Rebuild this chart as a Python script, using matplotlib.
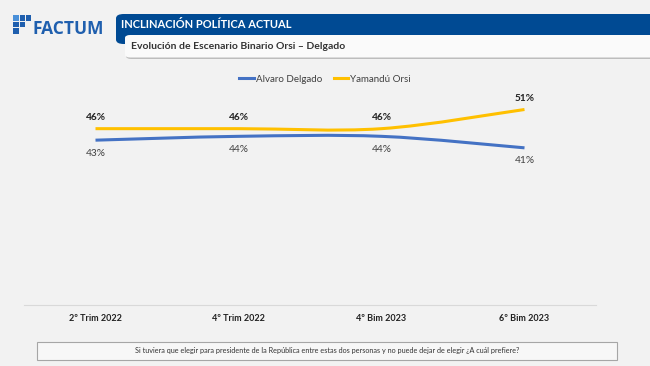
import matplotlib
matplotlib.use("Agg")
import matplotlib.pyplot as plt
from matplotlib.path import Path
from matplotlib.patches import PathPatch, FancyBboxPatch, Rectangle
from matplotlib.lines import Line2D

categories = ["2º Trim 2022", "4º Trim 2022", "4º Bim 2023", "6º Bim 2023"]
delgado = [43, 44, 44, 41]
orsi = [46, 46, 46, 51]
delgado_labels = ["43%", "44%", "44%", "41%"]
orsi_labels = ["46%", "46%", "46%", "51%"]
series_names = ["Alvaro Delgado", "Yamandú Orsi"]
title = "INCLINACIÓN POLÍTICA ACTUAL"
subtitle = "Evolución de Escenario Binario Orsi – Delgado"
question = ("Si tuviera que elegir para presidente de la República entre estas dos personas "
            "y no puede dejar de elegir ¿A cuál prefiere?")

plt.rcParams['font.family'] = ['Lato', 'DejaVu Sans']
BG = "#f2f2f2"
BLUE = "#4472C4"
GOLD = "#FFC000"
NAVY = "#004A93"

W, H = 650, 366
fig = plt.figure(figsize=(6.5, 3.66), dpi=100, facecolor=BG)


def fx(px):
    return px / W


def fy(py):
    return 1 - py / H


# Logo
logo_sq = [(13, 15, "#4a90d9"), (19.5, 15, "#1f5fae"), (26, 15, "#1f5fae"),
           (13, 21.5, "#1f5fae"), (19.5, 21.5, "#1f5fae"), (13, 28, "#1f5fae")]
for x, y, c in logo_sq:
    fig.patches.append(Rectangle((fx(x), fy(y + 5.5)), 5.5 / W, 5.5 / H, transform=fig.transFigure,
                                 facecolor=c, edgecolor="none"))
fig.text(fx(33), fy(29), "FACTUM", fontsize=12.5, color="#1f5fae", ha="left", va="center",
         fontweight="bold", family=["Open Sans", "DejaVu Sans"])

# Header bar
fig.patches.append(FancyBboxPatch((fx(116), fy(44)), fx(560), (44 - 14) / H,
                                  boxstyle="round,pad=0,rounding_size=0.012",
                                  transform=fig.transFigure, facecolor=NAVY, edgecolor="none"))
fig.text(fx(121), fy(25), title, fontsize=8, color="white", fontweight="bold",
         ha="left", va="center")
# shadow + white subtitle box
fig.patches.append(FancyBboxPatch((fx(126), fy(59)), fx(540), (59 - 36) / H,
                                  boxstyle="round,pad=0,rounding_size=0.008",
                                  transform=fig.transFigure, facecolor="#bdbdbd", edgecolor="none"))
fig.patches.append(FancyBboxPatch((fx(125), fy(57.5)), fx(540), (57.5 - 35) / H,
                                  boxstyle="round,pad=0,rounding_size=0.008",
                                  transform=fig.transFigure, facecolor="#fafafa", edgecolor="none"))
fig.text(fx(131), fy(46.5), subtitle, fontsize=7.5, color="#333333", fontweight="bold",
         ha="left", va="center")

# Axes
ax = fig.add_axes([fx(24), fy(305), fx(596 - 24), (305 - 75) / H])
ax.set_facecolor(BG)
ax.set_xlim(-0.5, len(categories) - 0.5)
ax.set_ylim(0, 60)
for s in ["top", "right", "left"]:
    ax.spines[s].set_visible(False)
ax.spines["bottom"].set_color("#d9d9d9")
ax.spines["bottom"].set_linewidth(0.8)
ax.set_yticks([])
ax.set_xticks(range(len(categories)))
ax.set_xticklabels(categories, fontsize=6.5, fontweight="bold", color="#222222")
ax.tick_params(axis="x", length=0, pad=6.5)


def smooth_path(xs, ys):
    n = len(xs)
    verts = [(xs[0], ys[0])]
    codes = [Path.MOVETO]
    for i in range(n - 1):
        p0 = (xs[i - 1], ys[i - 1]) if i > 0 else (xs[i], ys[i])
        p1 = (xs[i], ys[i])
        p2 = (xs[i + 1], ys[i + 1])
        p3 = (xs[i + 2], ys[i + 2]) if i + 2 < n else p2
        c1 = (p1[0] + (p2[0] - p0[0]) / 6, p1[1] + (p2[1] - p0[1]) / 6)
        c2 = (p2[0] - (p3[0] - p1[0]) / 6, p2[1] - (p3[1] - p1[1]) / 6)
        verts += [c1, c2, p2]
        codes += [Path.CURVE4] * 3
    return Path(verts, codes)


xs = list(range(len(categories)))
for vals, col in [(delgado, BLUE), (orsi, GOLD)]:
    ax.add_patch(PathPatch(smooth_path(xs, vals), facecolor="none", edgecolor=col,
                           linewidth=2.2, capstyle="butt"))

for x, v, lab in zip(xs, orsi, orsi_labels):
    ax.annotate(lab, (x, v), xytext=(0, 5), textcoords="offset points", ha="center",
                va="bottom", fontsize=7.3, fontweight="bold", color="#222222")
for x, v, lab in zip(xs, delgado, delgado_labels):
    ax.annotate(lab, (x, v), xytext=(0, -6), textcoords="offset points", ha="center",
                va="top", fontsize=7.3, color="#404040")

handles = [Line2D([], [], color=BLUE, lw=2.2), Line2D([], [], color=GOLD, lw=2.2)]
fig.legend(handles, series_names, loc="center", bbox_to_anchor=(fx(325), fy(79)), ncol=2,
           frameon=False, fontsize=7, handlelength=1.5, columnspacing=1.2,
           handletextpad=0.2, labelcolor="#404040")

# Bottom question box
fig.patches.append(Rectangle((fx(37), fy(360)), fx(617 - 37), (360 - 342) / H,
                             transform=fig.transFigure, facecolor="#f7f7f7",
                             edgecolor="#a6a6a6", linewidth=0.8))
fig.text(fx(327), fy(351), question, fontsize=5.2, color="#333333", ha="center", va="center")

fig.savefig("out.png", dpi=100, facecolor=BG)
